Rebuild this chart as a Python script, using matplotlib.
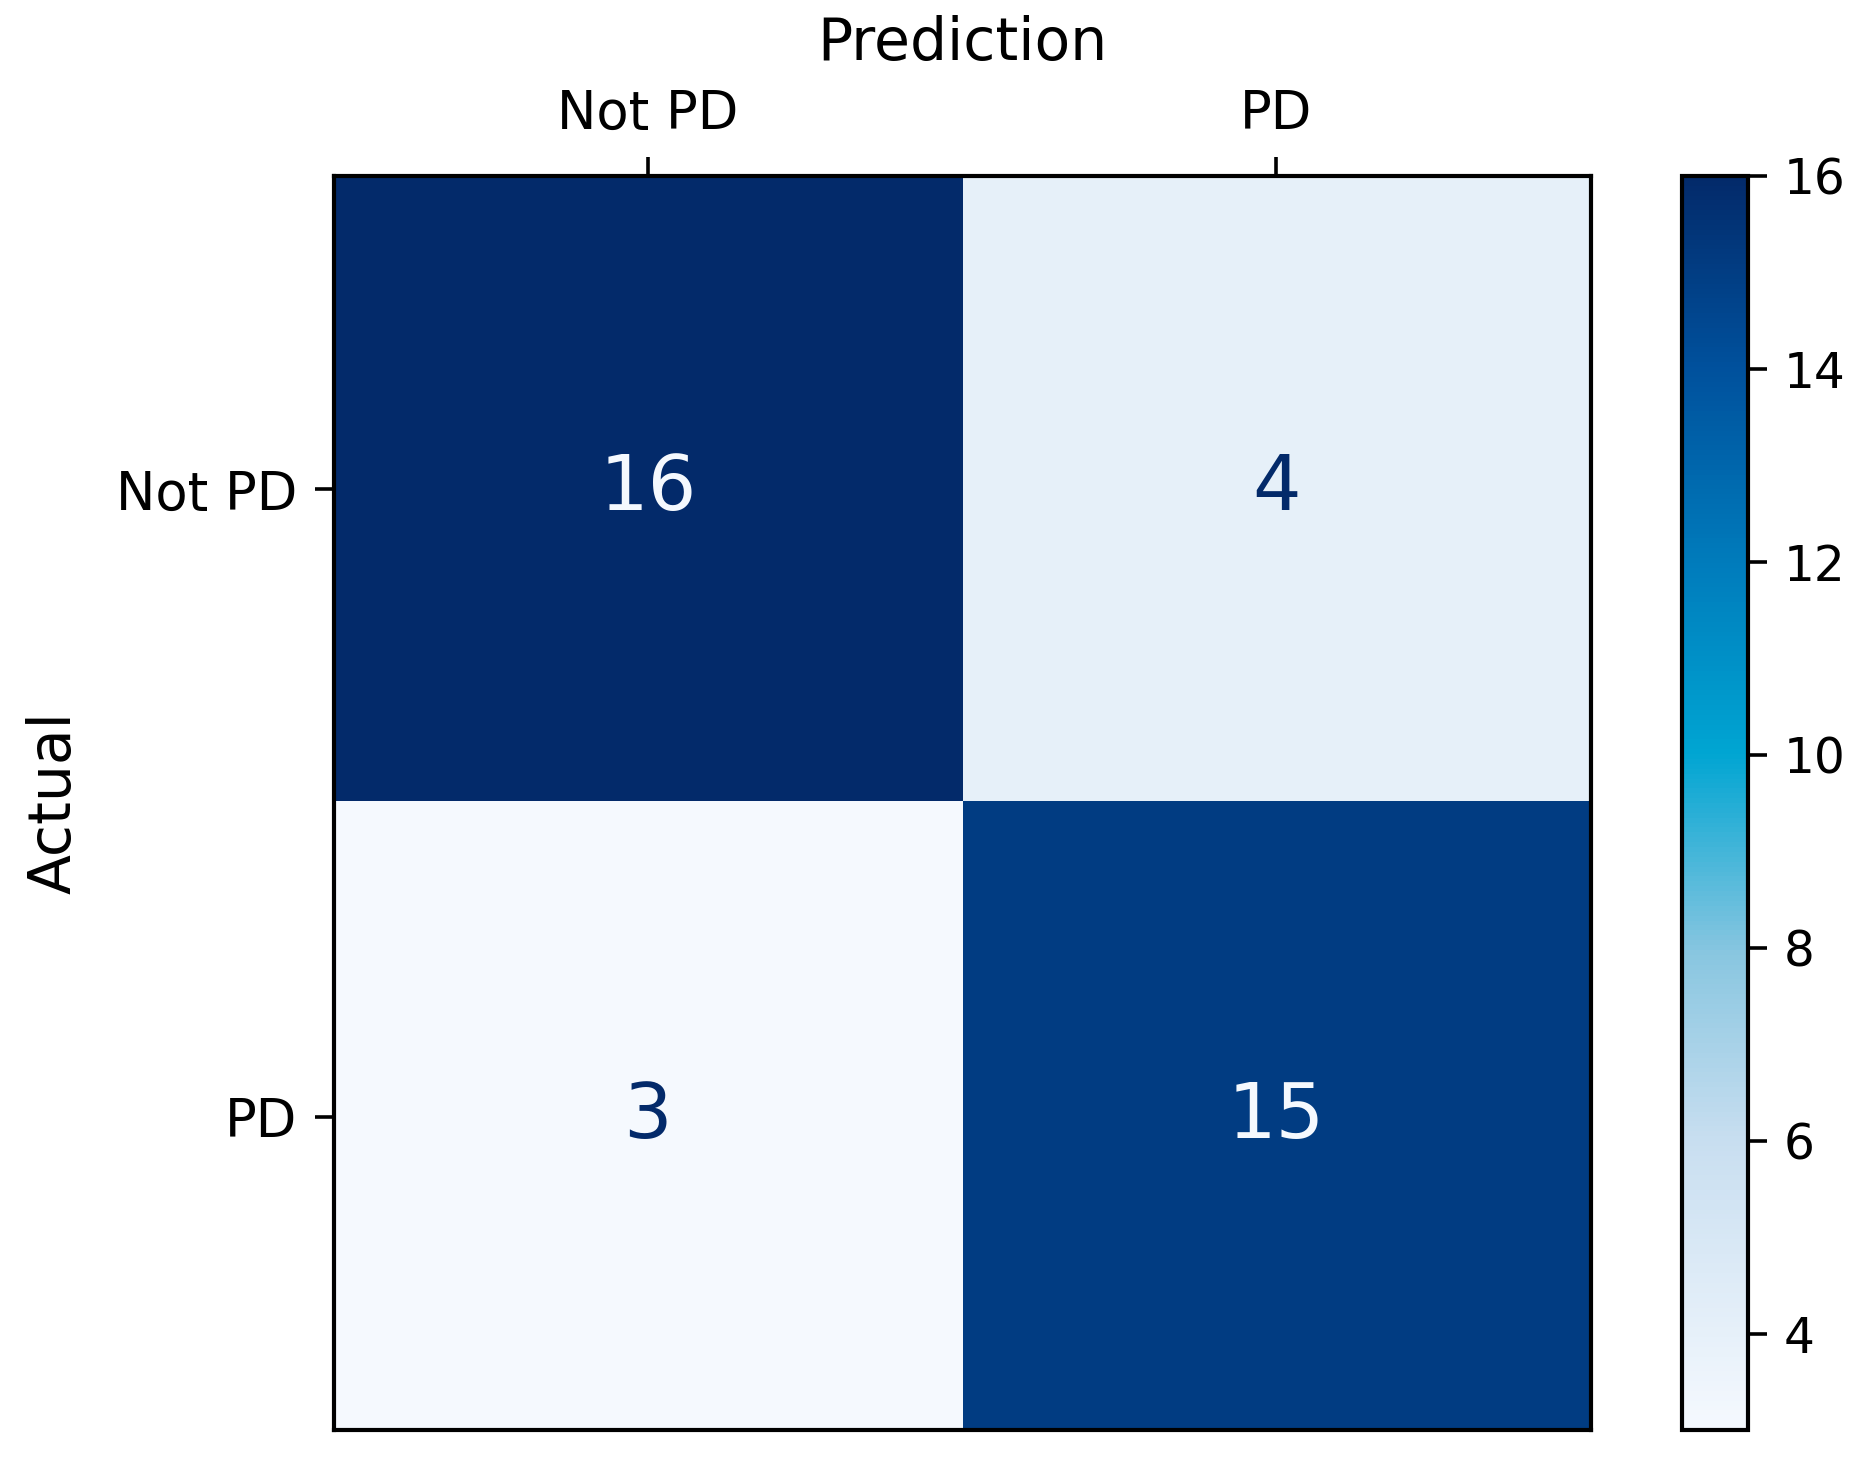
import numpy as np
import matplotlib
matplotlib.use('Agg')
import matplotlib.pyplot as plt
from matplotlib.colors import LinearSegmentedColormap

labels = ['Not PD', 'PD']
counts = [[16, 4],
          [3, 15]]
cbar_ticks = [4, 6, 8, 10, 12, 14, 16]

cm = np.array(counts)

# blues with a cyan middle, as in the picture
cmap = LinearSegmentedColormap.from_list('cm_blues', [
    (0.00, '#f5f9fe'),
    (0.23, '#c8def0'),
    (0.38, '#88c6e0'),
    (0.54, '#00a5d2'),
    (0.69, '#007cbc'),
    (0.85, '#00509c'),
    (1.00, '#032a6a'),
])

fig = plt.figure(figsize=(9.34, 7.32), dpi=200)
ax = fig.add_axes([0.1786, 0.0232, 0.673, 0.8566])
cax = fig.add_axes([0.9004, 0.0232, 0.0353, 0.8566])

im = ax.imshow(cm, cmap=cmap, vmin=cm.min(), vmax=cm.max(), aspect='auto')
mid = (cm.min() + cm.max()) / 2
for i in range(cm.shape[0]):
    for j in range(cm.shape[1]):
        color = cmap(0.0) if cm[i, j] > mid else cmap(1.0)
        ax.text(j, i, str(cm[i, j]), ha='center', va='center',
                fontsize=27.5, color=color)

ax.set_xticks(range(len(labels)))
ax.set_yticks(range(len(labels)))
ax.set_xticklabels(labels)
ax.set_yticklabels(labels)
ax.xaxis.tick_top()
ax.xaxis.set_label_position('top')
ax.set_xlabel('Prediction', fontsize=21, labelpad=10)
ax.set_ylabel('Actual', fontsize=21, labelpad=12)
ax.tick_params(labelsize=19, length=7, width=1.3, pad=6)
for s in ax.spines.values():
    s.set_linewidth(1.5)

cb = fig.colorbar(im, cax=cax)
cb.set_ticks(cbar_ticks)
cb.ax.tick_params(labelsize=17.5, length=7, width=1.3, pad=6)
cb.outline.set_linewidth(1.5)

fig.savefig('out.png', dpi=200)
